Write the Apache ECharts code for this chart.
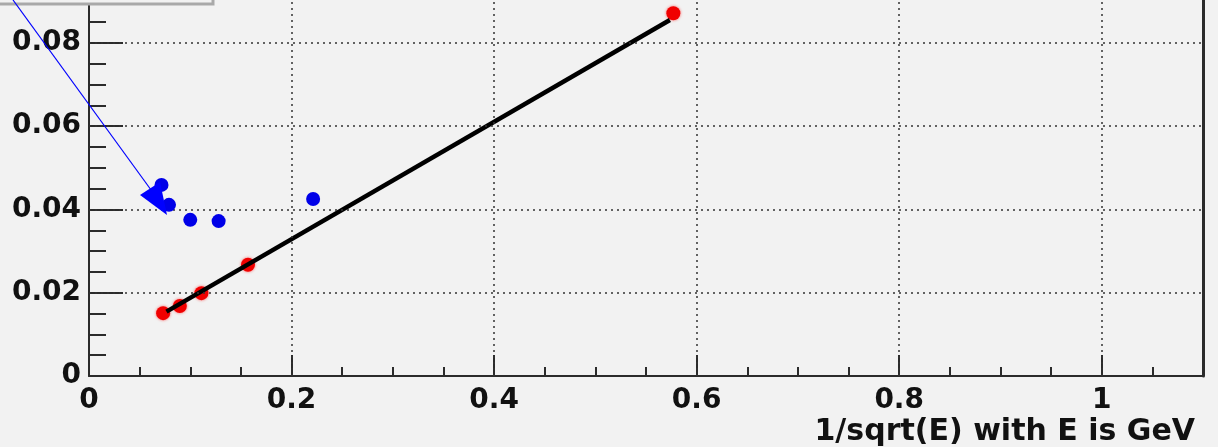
<!DOCTYPE html>
<html>
<head>
<meta charset="utf-8">
<script src="https://cdn.jsdelivr.net/npm/echarts@6/dist/echarts.min.js"></script>
<style>
html,body{margin:0;padding:0;background:#f2f2f2;}
#c{width:1218px;height:447px;}
</style>
</head>
<body>
<div id="c"></div>
<script>
// Data
const redX = [0.0732, 0.0897, 0.111, 0.157, 0.577];
const redY = [0.0151, 0.0168, 0.0199, 0.0267, 0.0871];
const blueX = [0.0716, 0.079, 0.100, 0.128, 0.2213];
const blueY = [0.0459, 0.0411, 0.0375, 0.0372, 0.0425];
const fitX = [0.0765, 0.5736];
const fitY = [0.01545, 0.0855];
const xTickLabels = ['0', '0.2', '0.4', '0.6', '0.8', '1'];
const yTickLabels = ['0', '0.02', '0.04', '0.06', '0.08'];
const xTitle = '1/sqrt(E) with E is GeV';

const FONT = 'DejaVu Sans';
const AX = '#2b2b2b';

function zip(a, b) { return a.map((v, i) => [v, b[i]]); }
function near(v, arr) {
  for (const s of arr) { if (Math.abs(parseFloat(s) - v) < 1e-6) return s; }
  return '';
}
const gridLineStyle = {color: '#333', width: 1.5, type: [2, 4]};

const chart = echarts.init(document.getElementById('c'), null, {renderer: 'canvas'});
chart.setOption({
  backgroundColor: '#f2f2f2',
  animation: false,
  title: {
    text: xTitle, right: 18, top: 412,
    textStyle: {fontFamily: FONT, fontWeight: 'bold', fontSize: 30, color: '#111'}
  },
  grid: {left: 89, right: 15, top: 0, bottom: 71},
  xAxis: [
    {
      type: 'value', position: 'bottom', min: 0, max: 1.1, interval: 0.2,
      axisLine: {show: true, lineStyle: {color: AX, width: 2}},
      axisTick: {show: true, inside: true, length: 21, lineStyle: {color: AX, width: 2}},
      splitLine: {show: false},
      axisLabel: {
        margin: 11, fontFamily: FONT, fontWeight: 'bold', fontSize: 28, color: '#111',
        formatter: v => near(v, xTickLabels)
      }
    },
    {
      type: 'value', position: 'bottom', min: 0, max: 1.1, interval: 0.05,
      axisLine: {show: false},
      axisTick: {show: true, inside: true, length: 9, lineStyle: {color: AX, width: 2}},
      splitLine: {show: false},
      axisLabel: {show: false}
    }
  ],
  yAxis: [
    {
      type: 'value', position: 'left', min: 0, max: 0.0903, interval: 0.02,
      axisLine: {show: true, lineStyle: {color: AX, width: 2}},
      axisTick: {show: true, inside: true, length: 34, lineStyle: {color: AX, width: 2}},
      splitLine: {show: false},
      axisLabel: {
        margin: 8, fontFamily: FONT, fontWeight: 'bold', fontSize: 28, color: '#111',
        showMaxLabel: false,
        formatter: v => near(v, yTickLabels)
      }
    },
    {
      type: 'value', position: 'left', min: 0, max: 0.0903, interval: 0.005,
      axisLine: {show: false},
      axisTick: {show: true, inside: true, length: 17, lineStyle: {color: AX, width: 2}},
      splitLine: {show: false},
      axisLabel: {show: false}
    },
    {
      type: 'value', position: 'right', min: 0, max: 0.0903,
      axisLine: {show: true, lineStyle: {color: AX, width: 3}},
      axisTick: {show: false}, splitLine: {show: false}, axisLabel: {show: false}
    }
  ],
  series: [
    {
      type: 'scatter', data: zip(redX, redY), symbol: 'circle', symbolSize: 14,
      itemStyle: {color: '#f00000', opacity: 1, shadowColor: 'rgba(255,0,0,0.6)', shadowBlur: 3}, z: 3,
      markLine: {
        silent: true, symbol: 'none', label: {show: false}, animation: false,
        lineStyle: gridLineStyle,
        data: yTickLabels.slice(1).map(s => ({yAxis: parseFloat(s)}))
          .concat(xTickLabels.slice(1).map(s => ({xAxis: parseFloat(s)})))
      }
    },
    {
      type: 'line', data: zip(fitX, fitY), showSymbol: false, symbol: 'none',
      lineStyle: {color: '#000', width: 4.5}, z: 4
    },
    {
      type: 'scatter', data: zip(blueX, blueY), symbol: 'circle', symbolSize: 14,
      itemStyle: {color: '#0000e8', opacity: 1}, z: 5
    }
  ],
  graphic: [
    {
      type: 'rect', shape: {x: -10, y: -30, width: 223, height: 34},
      style: {fill: '#f2f2f2', stroke: '#a9a9a9', lineWidth: 3}, z: 10
    },
    {
      type: 'line', shape: {x1: 13, y1: 0, x2: 154, y2: 194},
      style: {stroke: '#0000ff', lineWidth: 1.2}, z: 10
    },
    {
      type: 'polygon', shape: {points: [[140, 195], [160, 182], [167, 215]]},
      style: {fill: '#0000ff'}, z: 10
    }
  ]
});
</script>
</body>
</html>
